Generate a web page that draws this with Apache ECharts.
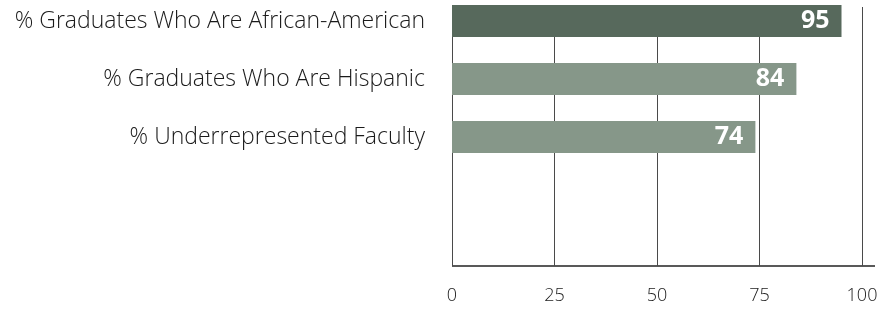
<!DOCTYPE html>
<html>
<head>
<meta charset="utf-8">
<script src="https://cdn.jsdelivr.net/npm/echarts@6/dist/echarts.min.js"></script>
<style>
  html, body { margin: 0; padding: 0; background: #fff; }
  #chart { width: 884px; height: 309px; }
</style>
</head>
<body>
<div id="chart"></div>
<script>
const categories = ['% Graduates Who Are African-American', '% Graduates Who Are Hispanic', '% Underrepresented Faculty'];
const values = [95, 84, 74];
const barColors = ['#57695c', '#869789', '#869789'];
const xTicks = [0, 25, 50, 75, 100];

const chart = echarts.init(document.getElementById('chart'));
const font = '"Open Sans", sans-serif';

const option = {
    animation: false,
    grid: [
        // axis + gridlines
        { left: 452, right: 22, top: 7, bottom: 43, outerBoundsMode: 'none' },
        // bars
        { left: 452, right: 22, top: -8, height: 174, outerBoundsMode: 'none' }
    ],
    xAxis: [
        {
            gridIndex: 0,
            type: 'value',
            min: xTicks[0],
            max: xTicks[xTicks.length - 1],
            interval: 25,
            axisLine: { show: false },
            axisTick: { show: false },
            splitLine: { show: true, lineStyle: { color: '#4a4a4a', width: 1 } },
            axisLabel: { fontFamily: font, fontWeight: 300, fontSize: 18, color: '#1a1a1a', margin: 21 }
        },
        {
            gridIndex: 1,
            type: 'value',
            min: xTicks[0],
            max: xTicks[xTicks.length - 1],
            show: false
        }
    ],
    yAxis: [
        { gridIndex: 0, type: 'value', show: false },
        {
            gridIndex: 1,
            type: 'category',
            inverse: true,
            data: categories,
            axisLine: { show: false },
            axisTick: { show: false },
            axisLabel: { fontFamily: font, fontWeight: 300, fontSize: 23, color: '#1a1a1a', margin: 27 }
        }
    ],
    graphic: [
        { type: 'line', shape: { x1: 452, y1: 266, x2: 875, y2: 266 }, style: { stroke: '#222', lineWidth: 1.5 } }
    ],
    series: [
        {
            type: 'bar',
            xAxisIndex: 1,
            yAxisIndex: 1,
            barWidth: 32,
            data: values.map((v, i) => ({ value: v, itemStyle: { color: barColors[i] } })),
            label: {
                show: true,
                position: 'insideRight',
                distance: 12,
                color: '#fff',
                fontFamily: font,
                fontWeight: 'bold',
                fontSize: 25
            }
        }
    ]
};
chart.setOption(option);
</script>
</body>
</html>
